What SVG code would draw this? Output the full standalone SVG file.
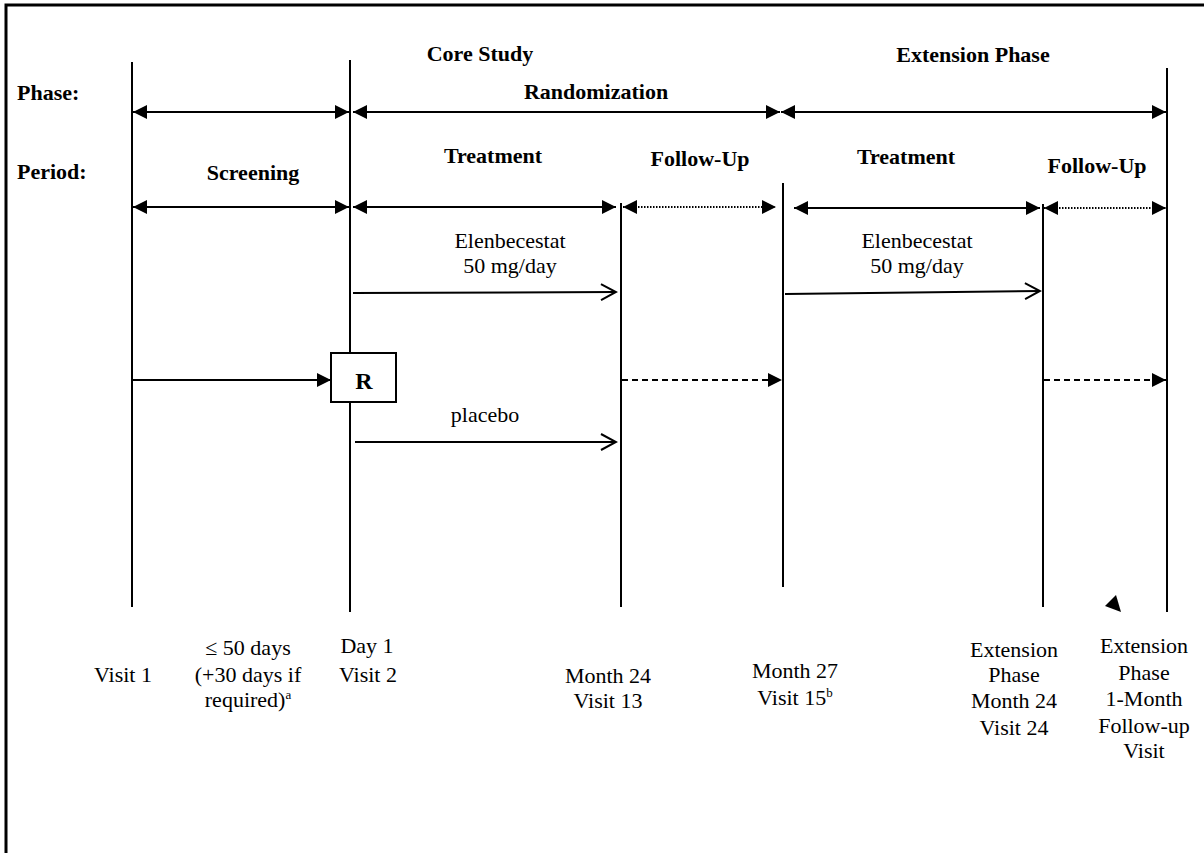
<svg xmlns="http://www.w3.org/2000/svg" width="1204" height="853" viewBox="0 0 1204 853">
<defs>
<style>
.b{font-family:"Liberation Serif","Times New Roman",serif;font-weight:bold;font-size:22px;fill:#000}
.t{font-family:"Liberation Serif","Times New Roman",serif;font-size:22px;fill:#000;text-anchor:middle}
.m{text-anchor:middle}
.v{stroke:#000;stroke-width:2;fill:none}
.a{stroke:#000;stroke-width:2;fill:none}
.dot{stroke:#000;stroke-width:2;fill:none;stroke-dasharray:1.5 1.5}
.dash{stroke:#000;stroke-width:2;fill:none;stroke-dasharray:6 4}
</style>
<marker id="fh" markerUnits="userSpaceOnUse" markerWidth="15" markerHeight="14" refX="14" refY="7" orient="auto-start-reverse" viewBox="0 0 15 14">
<path d="M0,0 L14,7 L0,14 Z" fill="#000"/>
</marker>
<marker id="oh" markerUnits="userSpaceOnUse" markerWidth="18" markerHeight="20" refX="16" refY="9" orient="auto" viewBox="0 0 18 20">
<path d="M1,1 L16,9 L1,17" fill="none" stroke="#000" stroke-width="2"/>
</marker>
</defs>
<rect x="0" y="0" width="1204" height="853" fill="#fff"/>
<path d="M6,853 V5 H1204" fill="none" stroke="#000" stroke-width="3"/>

<g id="timelines">
<line class="v" x1="132" y1="62" x2="132" y2="607"/>
<line class="v" x1="350" y1="60" x2="350" y2="612"/>
<line class="v" x1="621" y1="203" x2="621" y2="607"/>
<line class="v" x1="783" y1="183" x2="783" y2="587"/>
<line class="v" x1="1043" y1="204" x2="1043" y2="607"/>
<line class="v" x1="1167" y1="68" x2="1167" y2="612"/>
</g>

<g id="labels">
<text class="b m" x="480" y="61">Core Study</text>
<text class="b m" x="973" y="62">Extension Phase</text>
<text class="b" x="17" y="100">Phase:</text>
<text class="b m" x="596" y="99">Randomization</text>
<text class="b" x="17" y="179">Period:</text>
<text class="b m" x="253" y="180">Screening</text>
<text class="b m" x="493" y="163">Treatment</text>
<text class="b m" x="700" y="166">Follow-Up</text>
<text class="b m" x="906" y="164">Treatment</text>
<text class="b m" x="1097" y="173">Follow-Up</text>
<text class="t" x="510" y="248">Elenbecestat</text>
<text class="t" x="510" y="273">50 mg/day</text>
<text class="t" x="917" y="248">Elenbecestat</text>
<text class="t" x="917" y="273">50 mg/day</text>
<text class="t" x="485" y="422">placebo</text>
</g>

<g id="connectors">
<line class="a" x1="133" y1="112" x2="349" y2="112" marker-start="url(#fh)" marker-end="url(#fh)"/>
<line class="a" x1="353" y1="112" x2="780" y2="112" marker-start="url(#fh)" marker-end="url(#fh)"/>
<line class="a" x1="781" y1="112" x2="1166" y2="112" marker-start="url(#fh)" marker-end="url(#fh)"/>
<line class="a" x1="133" y1="207" x2="349" y2="207" marker-start="url(#fh)" marker-end="url(#fh)"/>
<line class="a" x1="353" y1="207" x2="616" y2="207" marker-start="url(#fh)" marker-end="url(#fh)"/>
<line class="dot" x1="623" y1="207" x2="776" y2="207" marker-start="url(#fh)" marker-end="url(#fh)"/>
<line class="a" x1="794" y1="208" x2="1040" y2="208" marker-start="url(#fh)" marker-end="url(#fh)"/>
<line class="dot" x1="1044" y1="208" x2="1166" y2="208" marker-start="url(#fh)" marker-end="url(#fh)"/>
<line class="a" x1="353" y1="293" x2="616" y2="292" marker-end="url(#oh)"/>
<line class="a" x1="785" y1="294" x2="1040" y2="291" marker-end="url(#oh)"/>
<line class="a" x1="355" y1="442" x2="616" y2="442" marker-end="url(#oh)"/>
<line class="a" x1="132" y1="380" x2="331" y2="380" marker-end="url(#fh)"/>
<line class="dash" x1="622" y1="380" x2="782" y2="380" marker-end="url(#fh)"/>
<line class="dash" x1="1044" y1="380" x2="1166" y2="380" marker-end="url(#fh)"/>
<path d="M1116,595 L1105,606 L1121,612 Z" fill="#000"/>
</g>

<g id="R">
<rect x="331" y="353" width="65" height="49" fill="#fff" stroke="#000" stroke-width="2"/>
<text class="b m" x="364" y="389" style="font-size:24px">R</text>
</g>

<g id="visit1"><text class="t" x="123" y="682">Visit 1</text></g>
<g id="screening-duration">
<text class="t" x="248" y="655">≤ 50 days</text>
<text class="t" x="248" y="682">(+30 days if</text>
<text class="t" x="248" y="707">required)<tspan dy="-8" font-size="13">a</tspan></text>
</g>
<g id="visit2">
<text class="t" x="367" y="653">Day 1</text>
<text class="t" x="368" y="682">Visit 2</text>
</g>
<g id="visit13">
<text class="t" x="608" y="683">Month 24</text>
<text class="t" x="608" y="708">Visit 13</text>
</g>
<g id="visit15">
<text class="t" x="795" y="678">Month 27</text>
<text class="t" x="795" y="705">Visit 15<tspan dy="-8" font-size="13">b</tspan></text>
</g>
<g id="visit24">
<text class="t" x="1014" y="657">Extension</text>
<text class="t" x="1014" y="682">Phase</text>
<text class="t" x="1014" y="708">Month 24</text>
<text class="t" x="1014" y="735">Visit 24</text>
</g>
<g id="followup-visit">
<text class="t" x="1144" y="653">Extension</text>
<text class="t" x="1144" y="680">Phase</text>
<text class="t" x="1144" y="706">1-Month</text>
<text class="t" x="1144" y="733">Follow-up</text>
<text class="t" x="1144" y="758">Visit</text>
</g>
</svg>
